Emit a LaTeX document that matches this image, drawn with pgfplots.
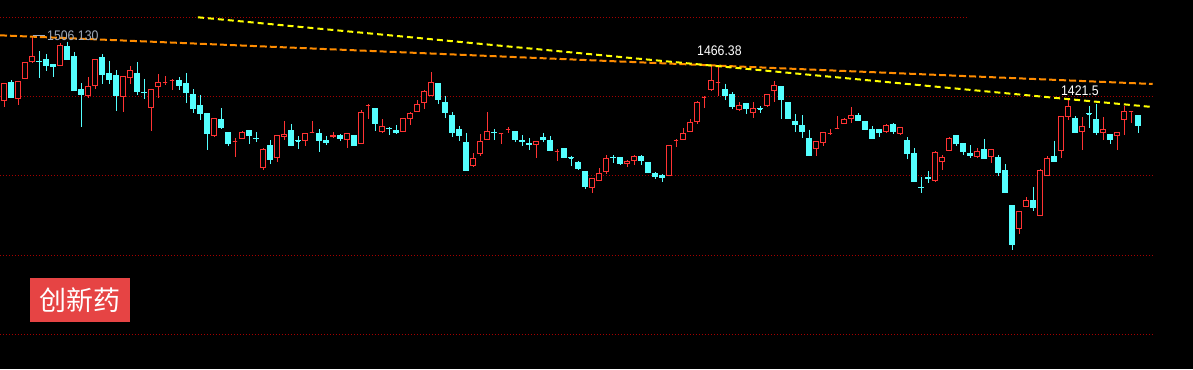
\documentclass[border=0pt]{standalone}
\usepackage{fontspec}
\setmainfont{Liberation Sans}
\newfontfamily\cjk{Noto Sans CJK SC}
\usepackage{pgfplots}
\usepackage{pgfplotstable}
\pgfplotsset{compat=1.18}
\usepgfplotslibrary{statistics}
\definecolor{cup}{RGB}{255,51,51}
\definecolor{cdn}{RGB}{84,255,255}
\definecolor{gridred}{RGB}{165,0,0}
\definecolor{trorange}{RGB}{255,140,0}
\definecolor{tryellow}{RGB}{255,255,0}
\definecolor{lblgray}{RGB}{160,170,185}
\definecolor{boxred}{RGB}{230,68,68}

% i open high low close
\pgfplotstableread{
i o h l c
0 1420.6 1443.8 1412.5 1442.9
1 1444.6 1448.2 1424.2 1424.2
2 1423.2 1445.6 1414.8 1445.6
3 1450.0 1471.0 1450.0 1471.0
4 1472.7 1506.1 1471.5 1480.3
5 1473.2 1487.0 1451.3 1473.1
6 1476.3 1483.0 1460.7 1467.4
7 1469.6 1469.6 1452.6 1466.0
8 1467.4 1497.3 1467.4 1495.0
9 1492.4 1499.4 1475.0 1476.3
10 1480.3 1486.1 1433.9 1433.9
11 1434.9 1444.2 1385.8 1428.6
12 1427.3 1452.3 1424.6 1440.2
13 1440.6 1476.3 1436.6 1476.3
14 1477.7 1483.0 1443.3 1455.3
15 1456.3 1473.6 1443.3 1448.6
16 1453.6 1461.6 1407.2 1426.9
17 1425.9 1452.3 1405.9 1452.3
18 1451.3 1467.0 1443.3 1460.3
19 1457.6 1472.3 1428.2 1433.5
20 1432.2 1449.6 1422.8 1432.1
21 1411.2 1436.2 1380.5 1436.2
22 1439.3 1456.3 1424.6 1445.2
23 1444.6 1453.6 1441.6 1444.6
24 1448.2 1449.6 1434.9 1448.2
25 1448.2 1452.3 1434.9 1440.6
26 1444.2 1457.6 1417.9 1430.9
27 1428.2 1436.2 1404.5 1409.5
28 1413.5 1428.2 1394.8 1404.1
29 1402.8 1402.8 1354.7 1376.4
30 1373.4 1397.4 1372.0 1397.4
31 1396.1 1410.8 1383.1 1385.4
32 1378.7 1378.7 1360.4 1364.0
33 1365.7 1370.3 1345.7 1365.7
34 1369.8 1380.1 1369.8 1377.4
35 1380.1 1380.1 1362.7 1373.4
36 1370.3 1378.7 1365.7 1370.2
37 1331.0 1356.9 1327.9 1354.7
38 1361.3 1368.0 1335.9 1341.3
39 1344.4 1374.7 1338.6 1374.7
40 1372.4 1393.4 1368.0 1376.0
41 1380.1 1389.4 1360.0 1361.3
42 1367.1 1373.4 1356.0 1367.0
43 1367.1 1377.0 1360.4 1377.0
44 1378.7 1393.4 1378.7 1378.7
45 1377.0 1382.3 1352.4 1367.1
46 1366.7 1373.4 1361.7 1364.4
47 1372.4 1378.7 1370.3 1374.7
48 1373.4 1375.6 1367.1 1369.8
49 1369.0 1377.0 1357.7 1377.0
50 1374.7 1374.7 1360.4 1360.4
51 1363.1 1407.7 1363.1 1405.1
52 1413.5 1416.2 1395.7 1413.5
53 1410.8 1410.8 1380.5 1389.8
54 1379.7 1396.1 1377.8 1386.3
55 1383.7 1385.0 1375.1 1383.6
56 1381.0 1387.7 1376.4 1377.4
57 1379.7 1397.0 1379.7 1397.0
58 1397.0 1405.5 1388.5 1403.7
59 1406.4 1421.5 1405.1 1415.8
60 1418.4 1434.9 1409.9 1433.1
61 1427.3 1458.9 1427.3 1445.2
62 1444.2 1444.2 1416.6 1421.9
63 1418.8 1426.9 1397.8 1404.5
64 1401.4 1405.5 1372.4 1377.8
65 1381.4 1386.7 1367.1 1373.8
66 1365.3 1377.4 1327.0 1327.0
67 1333.7 1350.6 1332.3 1343.6
68 1349.7 1376.0 1347.0 1366.3
69 1368.4 1405.5 1368.4 1379.7
70 1378.3 1382.3 1368.4 1378.2
71 1377.0 1377.0 1363.1 1377.0
72 1381.4 1385.4 1377.8 1381.4
73 1379.7 1379.7 1365.7 1368.4
74 1368.0 1374.7 1360.4 1365.7
75 1363.6 1370.7 1355.1 1361.7
76 1361.7 1366.3 1344.4 1366.3
77 1372.0 1377.4 1365.3 1368.4
78 1368.0 1373.4 1353.7 1353.7
79 1352.4 1356.0 1340.3 1352.4
80 1356.0 1356.0 1344.4 1344.4
81 1344.4 1347.0 1333.7 1344.3
82 1337.3 1339.9 1328.3 1329.7
83 1326.2 1326.2 1302.9 1305.2
84 1304.2 1317.6 1297.6 1315.9
85 1314.1 1331.0 1314.1 1322.6
86 1325.6 1348.0 1322.9 1343.6
87 1344.9 1347.6 1337.7 1344.8
88 1344.0 1345.3 1335.0 1336.9
89 1336.3 1341.3 1332.3 1339.6
90 1340.3 1347.6 1334.6 1345.3
91 1345.7 1347.6 1335.0 1340.3
92 1337.3 1337.3 1323.9 1325.2
93 1322.9 1325.2 1316.3 1318.9
94 1320.3 1322.2 1312.3 1318.5
95 1320.3 1360.9 1320.3 1360.9
96 1366.7 1369.0 1358.7 1366.7
97 1368.4 1384.1 1368.4 1377.0
98 1379.1 1396.5 1379.1 1391.7
99 1392.5 1420.2 1389.8 1418.4
100 1425.5 1426.9 1411.2 1425.5
101 1436.2 1467.0 1433.9 1447.8
102 1445.2 1466.4 1426.9 1445.2
103 1436.2 1443.3 1421.5 1426.9
104 1429.5 1432.2 1409.1 1412.5
105 1409.1 1418.4 1406.8 1414.4
106 1416.2 1417.5 1403.2 1409.9
107 1404.5 1418.8 1397.8 1410.8
108 1409.9 1413.5 1404.5 1409.8
109 1413.9 1429.1 1412.5 1429.1
110 1433.9 1447.3 1418.4 1441.2
111 1440.2 1440.2 1396.5 1421.9
112 1417.5 1418.4 1396.5 1397.4
113 1392.1 1402.8 1379.1 1388.5
114 1387.1 1401.4 1371.1 1379.1
115 1370.7 1381.8 1347.0 1347.0
116 1356.4 1366.3 1346.6 1366.3
117 1364.4 1377.4 1360.4 1377.4
118 1377.0 1382.7 1374.7 1377.0
119 1383.7 1400.1 1383.7 1383.7
120 1390.7 1397.0 1389.0 1394.8
121 1396.5 1412.1 1390.7 1401.0
122 1401.0 1403.7 1393.8 1393.8
123 1393.4 1393.4 1381.8 1381.8
124 1382.7 1386.7 1369.8 1369.8
125 1381.4 1381.4 1372.0 1377.8
126 1379.1 1389.4 1377.4 1387.7
127 1389.4 1390.3 1376.4 1379.1
128 1377.0 1384.1 1375.0 1384.1
129 1368.0 1372.0 1342.2 1349.7
130 1350.6 1357.3 1311.9 1313.2
131 1304.8 1318.5 1297.6 1304.7
132 1318.1 1326.2 1310.9 1315.9
133 1313.6 1352.9 1312.3 1351.6
134 1339.6 1348.0 1328.3 1344.9
135 1354.2 1372.0 1354.2 1370.7
136 1373.4 1373.4 1360.4 1363.1
137 1362.7 1362.7 1348.4 1352.4
138 1349.7 1361.3 1344.4 1347.0
139 1345.7 1357.3 1344.4 1353.3
140 1354.7 1369.4 1343.0 1343.0
141 1346.2 1354.7 1337.7 1354.7
142 1344.0 1348.0 1320.3 1324.3
143 1326.6 1335.9 1297.6 1297.6
144 1279.8 1279.8 1221.4 1228.0
145 1249.4 1273.1 1242.7 1273.1
146 1278.8 1291.8 1278.8 1286.5
147 1287.8 1305.2 1273.5 1277.5
148 1267.3 1329.2 1267.3 1327.9
149 1320.3 1346.6 1320.3 1343.6
150 1345.3 1366.7 1339.0 1339.0
151 1353.7 1399.7 1344.4 1399.7
152 1399.2 1421.5 1395.2 1413.1
153 1397.4 1400.1 1377.4 1378.7
154 1379.1 1398.4 1355.1 1386.3
155 1403.2 1413.5 1384.1 1403.1
156 1394.8 1416.2 1374.7 1377.4
157 1378.3 1398.8 1368.0 1381.4
158 1376.0 1376.0 1362.7 1368.4
159 1374.3 1378.3 1355.1 1378.3
160 1395.2 1413.5 1374.7 1406.4
161 1405.5 1405.5 1390.7 1405.5
162 1401.4 1401.4 1377.4 1387.1
}\candles

\pgfplotsset{
  candleup/.style={draw=cup, fill=black, line width=1pt, solid},
  candledn/.style={draw=cdn, fill=cdn, line width=1pt, solid},
  gridln/.style={gridred, line width=1pt, dash pattern=on 1pt off 2pt},
}

\begin{document}
\begin{tikzpicture}
\pgfplotstablegetrowsof{\candles}
\pgfmathtruncatemacro\lastrow{\pgfplotsretval-1}
\begin{axis}[
  scale only axis,
  width=1193pt, height=369pt,
  xmin=-0.5714, xmax=169.857,
  ymin=1061.85, ymax=1555.2,
  axis line style={draw=none},
  xtick=\empty, ytick=\empty,
  axis background/.style={fill=black},
  boxplot/draw direction=y,
  clip=true,
]
% grid lines
\addplot[gridln] coordinates {(-0.6,1532.1) (137.7,1532.1)};
\addplot[gridln] coordinates {(-0.6,1426.5) (164.1,1426.5)};
\addplot[gridln] coordinates {(-0.6,1320.8) (164.1,1320.8)};
\addplot[gridln] coordinates {(-0.6,1213.9) (164.1,1213.9)};
\addplot[gridln] coordinates {(-0.6,1108.2) (164.1,1108.2)};

% candles
\pgfplotsforeachungrouped \k in {0,...,\lastrow}{%
  \pgfplotstablegetelem{\k}{o}\of\candles \let\vo\pgfplotsretval
  \pgfplotstablegetelem{\k}{h}\of\candles \let\vh\pgfplotsretval
  \pgfplotstablegetelem{\k}{l}\of\candles \let\vl\pgfplotsretval
  \pgfplotstablegetelem{\k}{c}\of\candles \let\vc\pgfplotsretval
  \pgfmathsetmacro\lo{min(\vo,\vc)}%
  \pgfmathsetmacro\hi{max(\vo,\vc)}%
  \pgfmathtruncatemacro\dn{\vc<\vo ? 1 : 0}%
  \ifnum\dn=1 \def\cst{candledn}\else\def\cst{candleup}\fi
  \edef\cmd{\noexpand\addplot[\cst, boxplot prepared={draw position=\k, lower whisker=\vl, lower quartile=\lo, median=\lo, upper quartile=\hi, upper whisker=\vh, box extend=0.58, whisker extend=0}] coordinates {};}%
  \cmd
}

% trend lines
\addplot[trorange, line width=2pt, dash pattern=on 7pt off 3pt] coordinates {(-0.571,1508.0) (164.1,1442.9)};
\addplot[tryellow, line width=2pt, dash pattern=on 6pt off 4pt] coordinates {(27.7,1532.1) (164.1,1412.1)};

% labels
\addplot[lblgray, line width=1pt] coordinates {(4.2,1507.5) (5.9,1507.5)};
\node[anchor=west, text=lblgray, inner sep=0pt, font=\fontsize{12.3}{14}\selectfont] at (axis cs:6.14,1508.0) {\scalebox{1}[1.13]{1506.130}};
\node[text=white, inner sep=0pt, font=\fontsize{12.3}{14}\selectfont] at (axis cs:102.2,1487.4) {\scalebox{1}[1.13]{1466.38}};
\node[text=white, inner sep=0pt, font=\fontsize{12.3}{14}\selectfont] at (axis cs:153.7,1433.8) {\scalebox{1}[1.13]{1421.5}};
\node[fill=boxred, text=white, inner sep=0pt, minimum width=100pt, minimum height=44pt, font=\cjk\fontsize{27}{30}\selectfont] at (axis cs:10.857,1154.1) {创新药};
\end{axis}
\end{tikzpicture}
\end{document}
